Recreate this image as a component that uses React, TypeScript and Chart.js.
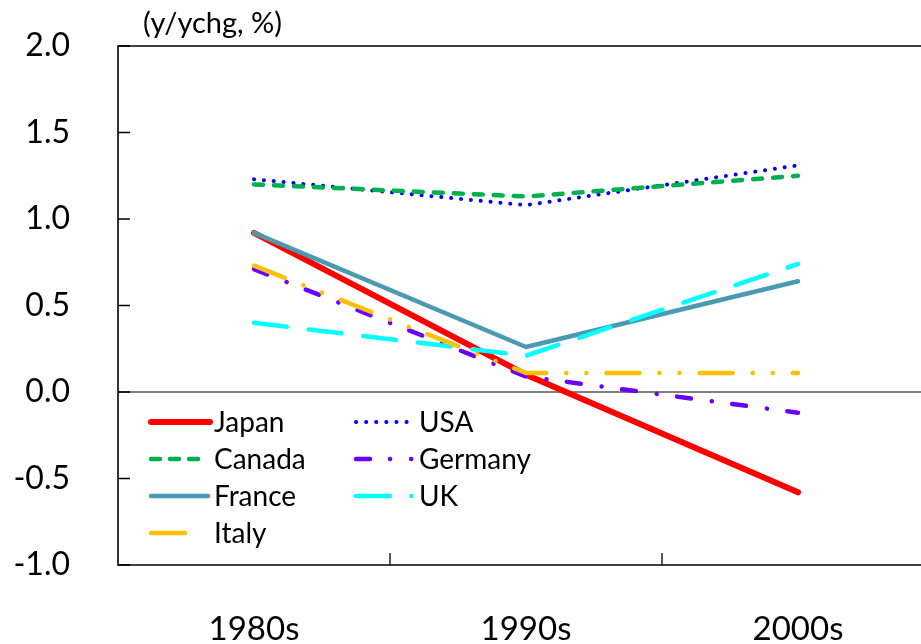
import React, { useEffect, useRef } from 'react';
import { Chart, registerables } from 'chart.js';
Chart.register(...registerables);

const categories = ['1980s', '1990s', '2000s'];
const seriesNames = ['Japan', 'USA', 'Canada', 'Germany', 'France', 'UK', 'Italy'];
const japan = [0.92, 0.10, -0.58];
const usa = [1.23, 1.08, 1.31];
const canada = [1.20, 1.13, 1.25];
const germany = [0.71, 0.09, -0.12];
const france = [0.92, 0.26, 0.64];
const uk = [0.40, 0.21, 0.74];
const italy = [0.73, 0.11, 0.11];
const seriesValues = [japan, usa, canada, germany, france, uk, italy];
const yMin = -1.0;
const yMax = 2.0;
const yStep = 0.5;
const axisTitle = '(y/ychg, %)';

const FONT = 'Lato, "Open Sans", sans-serif';

const styles = [
  { color: '#FF0000', width: 6, dash: [] as number[], legendDash: [] as number[], legendLen: 61 },
  { color: '#0000FF', width: 4, dash: [0.1, 9.8], legendDash: [0.1, 10], legendLen: 54 },
  { color: '#00B050', width: 4.5, dash: [9, 11], legendDash: [9, 10], legendLen: 56 },
  { color: '#6A00FF', width: 4.5, dash: [14, 21, 0.1, 20.5], legendDash: [14, 20, 0.1, 21, 0.1, 40], legendLen: 58 },
  { color: '#4A9AB2', width: 4.5, dash: [] as number[], legendDash: [] as number[], legendLen: 59 },
  { color: '#00FFFF', width: 4.5, dash: [33, 22], legendDash: [34, 21, 0.1, 40], legendLen: 58 },
  { color: '#FFC000', width: 4.5, dash: [33, 20, 0.1, 20, 0.1, 20], legendDash: [34, 60], legendLen: 40 },
];

const framePlugin = {
  id: 'frame',
  beforeDatasetsDraw(chart: any) {
    const { ctx, chartArea, scales } = chart;
    const { left, right, top, bottom } = chartArea;
    const x = scales.x;
    const y = scales.y;
    ctx.save();
    ctx.strokeStyle = '#000';
    ctx.lineWidth = 1.6;
    ctx.beginPath();
    ctx.moveTo(right + 5, top);
    ctx.lineTo(left, top);
    ctx.lineTo(left, bottom);
    ctx.lineTo(right + 5, bottom);
    ctx.stroke();
    ctx.lineWidth = 1.3;
    ctx.beginPath();
    y.ticks.forEach((t: any) => {
      const py = y.getPixelForValue(t.value);
      ctx.moveTo(left, py);
      ctx.lineTo(left + 12, py);
    });
    const w = x.getPixelForValue(1) - x.getPixelForValue(0);
    for (let i = 0; i < categories.length; i++) {
      const px = x.getPixelForValue(i) + w / 2;
      ctx.moveTo(px, bottom);
      ctx.lineTo(px, bottom - 12);
    }
    ctx.stroke();
    ctx.lineWidth = 1.2;
    const zy = y.getPixelForValue(0);
    ctx.beginPath();
    ctx.moveTo(left, zy);
    ctx.lineTo(right + 5, zy);
    ctx.stroke();
    ctx.restore();
  },
  afterDraw(chart: any) {
    const { ctx, chartArea } = chart;
    const { left, top } = chartArea;
    ctx.save();
    ctx.fillStyle = '#000';
    ctx.font = `29px ${FONT}`;
    ctx.textBaseline = 'middle';
    ctx.textAlign = 'left';
    ctx.fillText(axisTitle, left + 25, top - 22);

    // legend
    ctx.font = `28px ${FONT}`;
    seriesNames.forEach((name, i) => {
      const col = i % 2;
      const row = Math.floor(i / 2);
      const sx = left + 31 + col * 205;
      const sy = top + 376 + row * 37;
      const st = styles[i];
      ctx.save();
      ctx.strokeStyle = st.color;
      ctx.lineWidth = st.width;
      ctx.lineCap = 'round';
      ctx.setLineDash(st.legendDash);
      ctx.beginPath();
      ctx.moveTo(sx + 2, sy);
      ctx.lineTo(sx + st.legendLen, sy);
      ctx.stroke();
      ctx.restore();
      ctx.fillStyle = '#000';
      ctx.fillText(name, sx + 65, sy + 1);
    });
    ctx.restore();
  },
};

export default function App() {
  const ref = useRef<HTMLCanvasElement>(null);
  useEffect(() => {
    if (!ref.current) return;
    const n = seriesNames.length;
    const chart = new Chart(ref.current, {
      type: 'line',
      data: {
        labels: categories,
        datasets: seriesNames.map((name, i) => ({
          label: name,
          data: seriesValues[i],
          borderColor: styles[i].color,
          backgroundColor: styles[i].color,
          borderWidth: styles[i].width,
          borderDash: styles[i].dash,
          borderCapStyle: 'round' as const,
          borderJoinStyle: 'round' as const,
          pointRadius: 0,
          tension: 0,
          fill: false,
          order: n - i,
        })),
      },
      options: {
        animation: false,
        responsive: false,
        layout: { padding: { top: 46, right: 6, left: 0, bottom: 0 } },
        plugins: { legend: { display: false }, tooltip: { enabled: false } },
        scales: {
          x: {
            offset: true,
            grid: { display: false },
            border: { display: false },
            ticks: { color: '#000', font: { family: FONT, size: 33 }, padding: 37, maxRotation: 0 },
            afterFit(s: any) {
              s.height = 79;
              s.paddingLeft = 0;
              s.paddingRight = 0;
            },
          },
          y: {
            min: yMin,
            max: yMax,
            grid: { display: false },
            border: { display: false },
            ticks: {
              stepSize: yStep,
              color: '#000',
              font: { family: FONT, size: 32 },
              padding: 40,
              callback: (v: any) => Number(v).toFixed(1),
            },
            afterFit(s: any) {
              s.width = 118;
              s.paddingTop = 0;
              s.paddingBottom = 0;
            },
          },
        },
      },
      plugins: [framePlugin],
    });
    return () => chart.destroy();
  }, []);
  return (
    <div style={{ position: 'fixed', left: 0, top: 0, width: 921, height: 644, overflow: 'hidden', background: '#fff' }}>
      <canvas ref={ref} width={940} height={644} style={{ display: 'block' }} />
    </div>
  );
}
